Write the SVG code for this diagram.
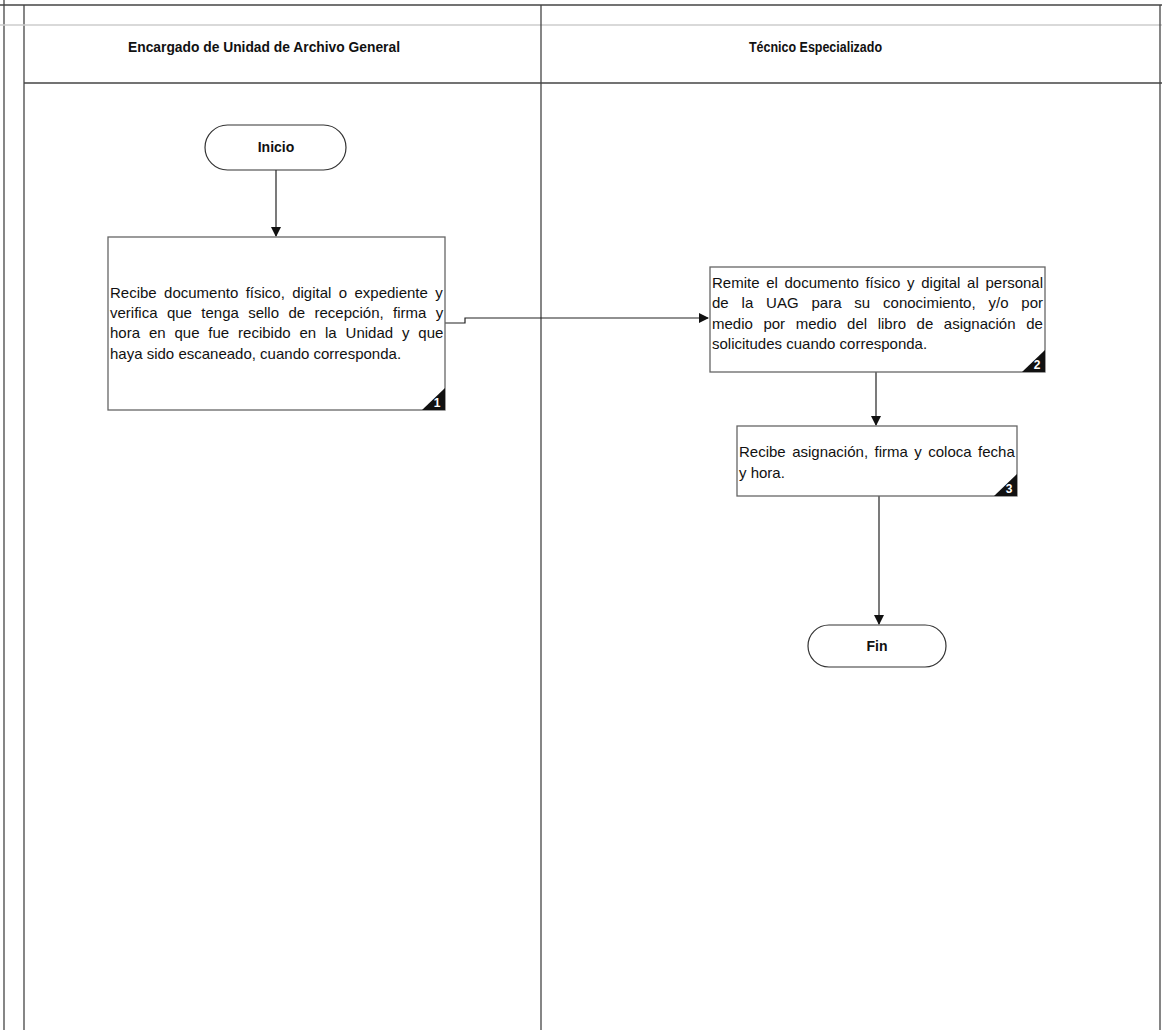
<svg xmlns="http://www.w3.org/2000/svg" width="1162" height="1030" viewBox="0 0 1162 1030">
<defs>
<marker id="arr" markerWidth="10" markerHeight="10" refX="9" refY="5" orient="auto" markerUnits="userSpaceOnUse">
<path d="M0,0 L10,5 L0,10 z" fill="#111"/>
</marker>
<style>
.lane{fill:none;stroke:#444;stroke-width:1.3}
.faint{fill:none;stroke:#ccc;stroke-width:1.5}
.hdr{font-family:"Liberation Sans",Arial,sans-serif;font-size:14px;font-weight:bold;fill:#111}
.box{fill:#fff;stroke:#666;stroke-width:1.3}
.term{fill:#fff;stroke:#333;stroke-width:1.2}
.t{font-family:"Liberation Sans",Arial,sans-serif;font-size:15px;fill:#111}
.tb{font-family:"Liberation Sans",Arial,sans-serif;font-size:14px;font-weight:bold;fill:#111;text-anchor:middle}
.num{font-family:"Liberation Sans",Arial,sans-serif;font-size:12px;font-weight:bold;fill:#fff;text-anchor:middle}
.conn{fill:none;stroke:#222;stroke-width:1.2}
</style>
</defs>
<rect width="1162" height="1030" fill="#fff"/>
<g id="lanes">
<line class="lane" x1="4" y1="0" x2="4" y2="1030"/>
<line class="lane" x1="24" y1="5" x2="24" y2="1030"/>
<line class="lane" x1="0" y1="5" x2="1162" y2="5"/>
<line class="faint" x1="0" y1="25" x2="1162" y2="25"/>
<line class="lane" x1="24" y1="83" x2="1162" y2="83"/>
<line class="lane" x1="541" y1="5" x2="541" y2="1030"/>
<line class="lane" x1="1160" y1="5" x2="1160" y2="1030"/>
<text class="hdr" x="128" y="52" textLength="272" lengthAdjust="spacingAndGlyphs">Encargado de Unidad de Archivo General</text>
<text class="hdr" x="749" y="52" textLength="133" lengthAdjust="spacingAndGlyphs">Técnico Especializado</text>
</g>
<g id="connectors">
<line class="conn" x1="276" y1="170" x2="276" y2="236" marker-end="url(#arr)"/>
<polyline class="conn" points="445,323 465,323 465,318 708,318" marker-end="url(#arr)"/>
<line class="conn" x1="876" y1="372" x2="876" y2="425" marker-end="url(#arr)"/>
<line class="conn" x1="879" y1="496" x2="879" y2="624" marker-end="url(#arr)"/>
</g>
<g id="inicio">
<rect class="term" x="205" y="125" width="141" height="45" rx="22.5"/>
<text class="tb" x="276" y="152">Inicio</text>
</g>
<g id="step1">
<rect class="box" x="108" y="237" width="337" height="173"/>
<text class="t" x="110" y="298" word-spacing="3.2">Recibe documento físico, digital o expediente y</text>
<text class="t" x="110" y="318" word-spacing="5.2">verifica que tenga sello de recepción, firma y</text>
<text class="t" x="110" y="338" word-spacing="4.7">hora en que fue recibido en la Unidad y que</text>
<text class="t" x="110" y="359">haya sido escaneado, cuando corresponda.</text>
<path d="M422,410 L445,410 L445,388 z" fill="#111"/>
<text class="num" x="437" y="407">1</text>
</g>
<g id="step2">
<rect class="box" x="710" y="267" width="335" height="105"/>
<text class="t" x="712" y="288" word-spacing="2.5">Remite el documento físico y digital al personal</text>
<text class="t" x="712" y="308" word-spacing="8.7">de la UAG para su conocimiento, y/o por</text>
<text class="t" x="712" y="329" word-spacing="6.4">medio por medio del libro de asignación de</text>
<text class="t" x="712" y="349">solicitudes cuando corresponda.</text>
<path d="M1022,372 L1045,372 L1045,350 z" fill="#111"/>
<text class="num" x="1037" y="369">2</text>
</g>
<g id="step3">
<rect class="box" x="737" y="426" width="280" height="70"/>
<text class="t" x="739" y="457" word-spacing="2.3">Recibe asignación, firma y coloca fecha</text>
<text class="t" x="739" y="478">y hora.</text>
<path d="M994,496 L1017,496 L1017,474 z" fill="#111"/>
<text class="num" x="1009" y="493">3</text>
</g>
<g id="fin">
<rect class="term" x="808" y="625" width="138" height="42" rx="21"/>
<text class="tb" x="877" y="651">Fin</text>
</g>
</svg>
